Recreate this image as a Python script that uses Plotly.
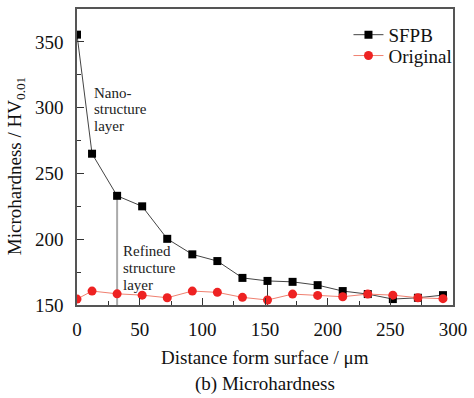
import plotly.graph_objects as go

distance = [0, 12, 32, 52, 72, 92, 112, 132, 152, 172, 192, 212, 232, 252, 272, 292]
sfpb = [355.5, 265, 233, 225, 200.3, 188.5, 183.4, 170.6, 168.3, 167.6, 165.1, 160.6, 158.3, 154.5, 155.5, 157.5]
original = [154.5, 160.6, 158.5, 157.5, 155.5, 160.6, 159.6, 155.8, 153.8, 158.3, 157.3, 156.3, 158.3, 157.5, 155.5, 154.8]
x_ticks = [0, 50, 100, 150, 200, 250, 300]
y_ticks = [150, 200, 250, 300, 350]

FONT = "Liberation Serif"

fig = go.Figure()
fig.add_trace(go.Scatter(
    x=distance, y=sfpb, name="SFPB", mode="lines+markers", legend="legend",
    line=dict(color="#444444", width=1),
    marker=dict(symbol="square", size=8, color="black"),
))
fig.add_trace(go.Scatter(
    x=distance, y=original, name="Original", mode="lines+markers", legend="legend2",
    line=dict(color="#f08070", width=1),
    marker=dict(symbol="circle", size=9, color="#ee2222"),
))

# layer boundary lines
fig.add_shape(type="line", x0=distance[2], x1=distance[2], y0=150, y1=sfpb[2],
              line=dict(color="#aaaaaa", width=2), layer="below")
fig.add_shape(type="line", x0=distance[8], x1=distance[8], y0=150, y1=sfpb[8],
              line=dict(color="#333333", width=1), layer="below")

def txt(x, y, s):
    fig.add_annotation(x=x, y=y, text=s, showarrow=False, xanchor="left", yanchor="middle",
                       font=dict(family=FONT, size=15, color="#222"))

for yy, s in zip([311.5, 298.7, 285.8], ["Nano-", "structure", "layer"]):
    txt(11.8, yy, s)
for yy, s in zip([190.8, 177.9, 165.1], ["Refined", "structure", "layer"]):
    txt(34.8, yy, s)

# axis titles / caption
fig.add_annotation(xref="paper", yref="paper", x=-0.1615, y=0.47, text="Microhardness / HV<sub>0.01</sub>",
                   textangle=-90, showarrow=False, xanchor="center", yanchor="middle",
                   font=dict(family=FONT, size=19, color="#111"))
fig.add_annotation(xref="paper", yref="paper", x=0.5, y=-0.178, text="Distance form surface / μm",
                   showarrow=False, xanchor="center", yanchor="middle",
                   font=dict(family=FONT, size=19, color="#111"))
fig.add_annotation(xref="paper", yref="paper", x=0.5, y=-0.266, text="(b) Microhardness",
                   showarrow=False, xanchor="center", yanchor="middle", borderpad=0,
                   font=dict(family=FONT, size=19, color="#111"))

axis_common = dict(
    showgrid=False, zeroline=False, showline=True, linecolor="#555555", linewidth=1.5,
    mirror=True, ticks="inside", ticklen=7, tickwidth=1, tickcolor="#333",
    tickfont=dict(family=FONT, size=19, color="#111"), ticklabeloverflow="allow",
)
fig.update_xaxes(range=[0, 300], tickvals=x_ticks, ticklabelstandoff=6,
                 minor=dict(ticks="inside", ticklen=4, dtick=25, tickcolor="#333"), **axis_common)
fig.update_yaxes(range=[150, 375], tickvals=y_ticks, ticklabelstandoff=8,
                 minor=dict(ticks="inside", ticklen=4, dtick=25, tickcolor="#333"), **axis_common)

leg = dict(xanchor="left", yanchor="middle", bgcolor="rgba(0,0,0,0)",
           font=dict(family=FONT, size=19, color="#111"), itemwidth=30)
fig.update_layout(
    width=474, height=398,
    margin=dict(l=77, r=13, t=7, b=93),
    plot_bgcolor="white", paper_bgcolor="white",
    font=dict(family=FONT, size=19, color="#111"),
    showlegend=True,
    legend=dict(x=0.722, y=(305 - 33) / 298, **leg),
    legend2=dict(x=0.722, y=(305 - 54) / 298, **leg),
)

fig.write_html("out.html")
